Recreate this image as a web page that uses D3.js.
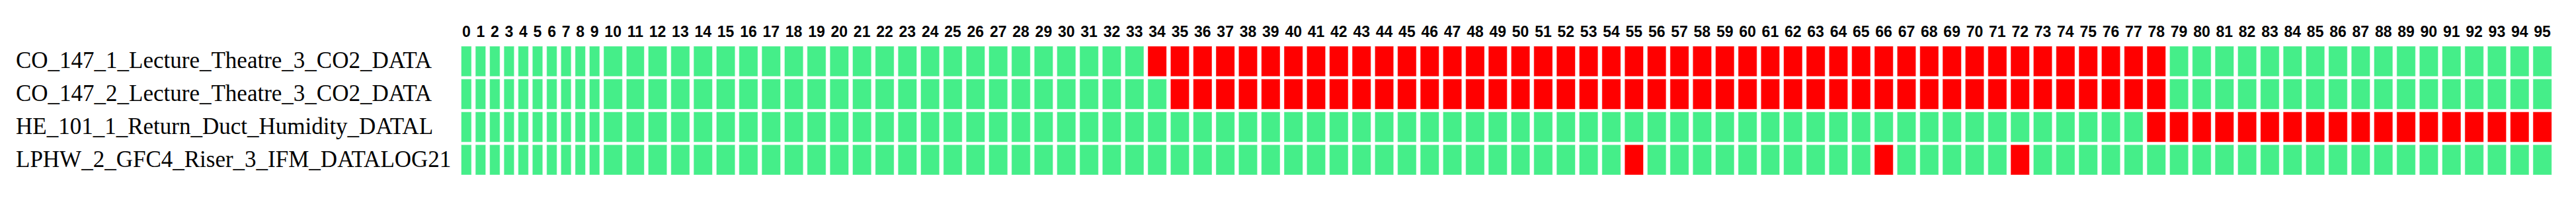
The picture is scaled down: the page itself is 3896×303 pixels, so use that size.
<!DOCTYPE html>
<html>
<head>
<meta charset="utf-8">
<script src="https://cdn.jsdelivr.net/npm/d3@7"></script>
<style>
  body { margin: 0; background: #fff; }
  .rowlabel { font-family: "Liberation Serif", "Times New Roman", serif; font-size: 35px; }
  .slotlabel { font-family: "Liberation Sans", Arial, sans-serif; font-weight: bold; font-size: 23px; }
</style>
</head>
<body>
<div id="chart"></div>
<script>
// sensor names (rows)
let sensors = [
    "CO_147_1_Lecture_Theatre_3_CO2_DATA",
    "CO_147_2_Lecture_Theatre_3_CO2_DATA",
    "HE_101_1_Return_Duct_Humidity_DATAL",
    "LPHW_2_GFC4_Riser_3_IFM_DATALOG21"
];

// column labels: 15 minute slots of the day
let slots = [
    0, 1, 2, 3, 4, 5, 6, 7, 8, 9, 10, 11, 12, 13, 14, 15, 16, 17, 18, 19, 20, 21, 22, 23,
    24, 25, 26, 27, 28, 29, 30, 31, 32, 33, 34, 35, 36, 37, 38, 39, 40, 41, 42, 43, 44, 45, 46, 47,
    48, 49, 50, 51, 52, 53, 54, 55, 56, 57, 58, 59, 60, 61, 62, 63, 64, 65, 66, 67, 68, 69, 70, 71,
    72, 73, 74, 75, 76, 77, 78, 79, 80, 81, 82, 83, 84, 85, 86, 87, 88, 89, 90, 91, 92, 93, 94, 95
];

// 1 = fault / missing data (red), 0 = ok (green)
let co147_1 = [
    0, 0, 0, 0, 0, 0, 0, 0, 0, 0, 0, 0, 0, 0, 0, 0, 0, 0, 0, 0, 0, 0, 0, 0,
    0, 0, 0, 0, 0, 0, 0, 0, 0, 0, 1, 1, 1, 1, 1, 1, 1, 1, 1, 1, 1, 1, 1, 1,
    1, 1, 1, 1, 1, 1, 1, 1, 1, 1, 1, 1, 1, 1, 1, 1, 1, 1, 1, 1, 1, 1, 1, 1,
    1, 1, 1, 1, 1, 1, 1, 0, 0, 0, 0, 0, 0, 0, 0, 0, 0, 0, 0, 0, 0, 0, 0, 0
];
let co147_2 = [
    0, 0, 0, 0, 0, 0, 0, 0, 0, 0, 0, 0, 0, 0, 0, 0, 0, 0, 0, 0, 0, 0, 0, 0,
    0, 0, 0, 0, 0, 0, 0, 0, 0, 0, 0, 1, 1, 1, 1, 1, 1, 1, 1, 1, 1, 1, 1, 1,
    1, 1, 1, 1, 1, 1, 1, 1, 1, 1, 1, 1, 1, 1, 1, 1, 1, 1, 1, 1, 1, 1, 1, 1,
    1, 1, 1, 1, 1, 1, 1, 0, 0, 0, 0, 0, 0, 0, 0, 0, 0, 0, 0, 0, 0, 0, 0, 0
];
let he101_1 = [
    0, 0, 0, 0, 0, 0, 0, 0, 0, 0, 0, 0, 0, 0, 0, 0, 0, 0, 0, 0, 0, 0, 0, 0,
    0, 0, 0, 0, 0, 0, 0, 0, 0, 0, 0, 0, 0, 0, 0, 0, 0, 0, 0, 0, 0, 0, 0, 0,
    0, 0, 0, 0, 0, 0, 0, 0, 0, 0, 0, 0, 0, 0, 0, 0, 0, 0, 0, 0, 0, 0, 0, 0,
    0, 0, 0, 0, 0, 0, 1, 1, 1, 1, 1, 1, 1, 1, 1, 1, 1, 1, 1, 1, 1, 1, 1, 1
];
let lphw_2 = [
    0, 0, 0, 0, 0, 0, 0, 0, 0, 0, 0, 0, 0, 0, 0, 0, 0, 0, 0, 0, 0, 0, 0, 0,
    0, 0, 0, 0, 0, 0, 0, 0, 0, 0, 0, 0, 0, 0, 0, 0, 0, 0, 0, 0, 0, 0, 0, 0,
    0, 0, 0, 0, 0, 0, 0, 1, 0, 0, 0, 0, 0, 0, 0, 0, 0, 0, 1, 0, 0, 0, 0, 0,
    1, 0, 0, 0, 0, 0, 0, 0, 0, 0, 0, 0, 0, 0, 0, 0, 0, 0, 0, 0, 0, 0, 0, 0
];
let statusRows = [co147_1, co147_2, he101_1, lphw_2];

let width = 3896, height = 303;
let margin = {top: 68.5, left: 697, bottom: 36.5};
let labelX = 24;
let colPad = 8.75;   // space added to each column header's text width
let gap = 5;         // white space between cells

let svg = d3.select("#chart")
    .append("svg")
        .attr("width", width)
        .attr("height", height);

// column header labels; each column is as wide as its label plus padding
let header = svg.append("g")
    .selectAll("text")
    .data(slots)
    .enter()
    .append("text")
        .attr("class", "slotlabel")
        .attr("y", 56)
        .attr("text-anchor", "middle")
        .attr("fill", "black")
        .text(d => d);

let widths = header.nodes().map(n => n.getComputedTextLength() + colPad);
let offsets = [];
widths.reduce((acc, w) => { offsets.push(acc); return acc + w; }, margin.left);

let x = d3.scaleOrdinal().domain(slots).range(offsets);
let colW = d3.scaleOrdinal().domain(slots).range(widths);

let y = d3.scaleBand()
    .domain(sensors)
    .range([margin.top, height - margin.bottom])
    .paddingInner(0.06)
    .paddingOuter(0.02);

let color = d3.scaleOrdinal()
    .domain([0, 1])
    .range(["#45ee89", "#ff0000"]);

header.attr("x", d => x(d) + (colW(d) - gap) / 2);

// row labels
svg.append("g")
    .selectAll("text")
    .data(sensors)
    .enter()
    .append("text")
        .attr("class", "rowlabel")
        .attr("x", labelX)
        .attr("y", d => y(d) + y.bandwidth() / 2 + 10.5)
        .attr("fill", "black")
        .text(d => d);

let rows = svg.append("g")
    .selectAll("g")
    .data(sensors)
    .enter()
    .append("g");

rows.selectAll("rect")
    .data((s, i) => statusRows[i].map((v, j) => ({sensor: s, slot: slots[j], value: v})))
    .enter()
    .append("rect")
        .attr("x", d => x(d.slot) + 0.5)
        .attr("y", d => y(d.sensor) + 0.5)
        .attr("width", d => colW(d.slot) - gap - 1)
        .attr("height", y.bandwidth() - 1)
        .attr("fill", d => color(d.value))
        .attr("stroke", "white")
        .attr("stroke-opacity", 0.45)
        .attr("stroke-width", 1);
</script>
</body>
</html>
